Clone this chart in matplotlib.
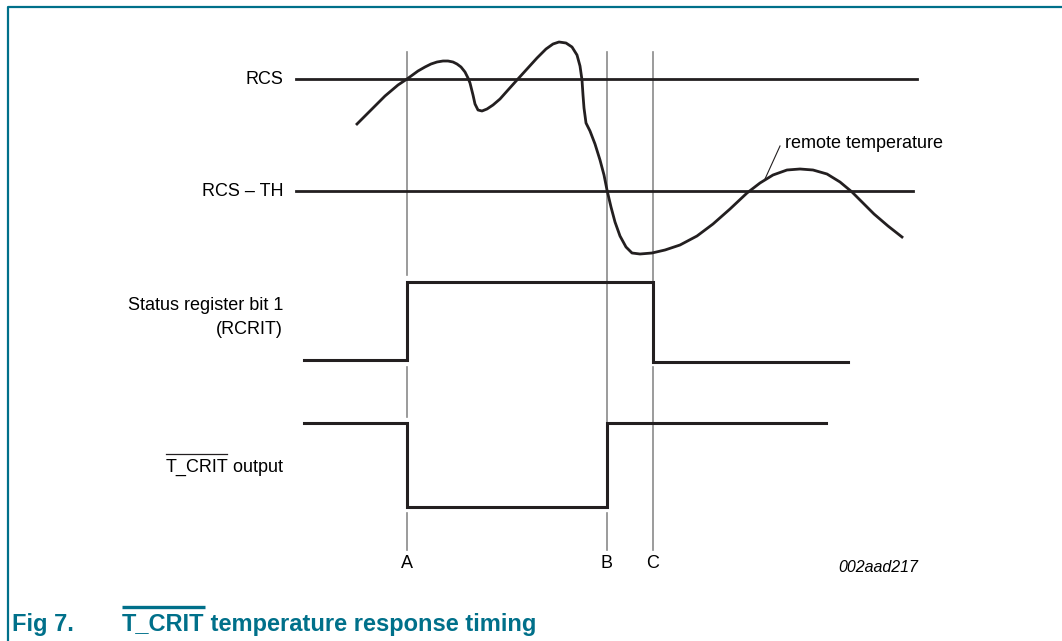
import matplotlib
matplotlib.use("Agg")
import matplotlib.pyplot as plt

# %%
# values (pixel units, y grows downward)
curve_x = [357, 370, 385, 398, 407, 418, 425, 431, 437, 443, 448, 453, 457, 461, 465, 468,
           470, 473, 475, 478, 482, 487, 493, 500, 508, 517, 527, 537, 546, 553, 559, 566,
           572, 577, 580, 582, 583, 584, 586, 590, 595, 600, 604, 607, 611, 615, 620, 626,
           632, 640, 652, 665, 680, 697, 713, 730, 747, 760, 773, 787, 800, 813, 827, 840,
           852, 863, 874, 888, 902]
curve_y = [124, 111, 96, 85, 79, 71, 67, 64, 62, 61, 61, 62, 64, 67, 72, 78,
           83, 95, 104, 110, 111, 109, 105, 99, 90, 80, 69, 58, 49, 44, 42, 43,
           47, 55, 66, 80, 95, 108, 123, 131, 144, 160, 175, 190, 207, 222, 236, 247,
           253, 254, 253, 250, 245, 236, 224, 209, 193, 183, 175, 170, 169, 170, 174, 182,
           192, 203, 214, 226, 237]

rcs_level = 79
rcs_th_level = 191
events = {"A": 407, "B": 607, "C": 653}

status_x = [304, 407, 407, 653, 653, 848]
status_y = [360, 360, 282, 282, 362, 362]
tcrit_x = [304, 407, 407, 607, 607, 826]
tcrit_y = [423, 423, 507, 507, 423, 423]

# gray marker segments (top, bottom) for each event line
marker_segs = {
    "A": [(52, 275), (367, 417), (513, 550)],
    "B": [(52, 423), (513, 550)],
    "C": [(52, 282), (367, 550)],
}

teal = "#00708a"
ink = "#231f20"
font = ["Liberation Sans", "DejaVu Sans"]
fs = 13

# %%
fig = plt.figure(figsize=(10.62, 6.41), dpi=100)
ax = fig.add_axes([0, 0, 1, 1])
ax.set_xlim(0, 1062)
ax.set_ylim(641, 0)
ax.axis("off")

# frame
ax.plot([8, 8, 1062], [641, 7, 7], color=teal, lw=1.6, solid_capstyle="butt")

# event markers
for name, segs in marker_segs.items():
    x = events[name]
    for y0, y1 in segs:
        ax.plot([x, x], [y0, y1], color="#8a8a8a", lw=1.2)
    ax.text(x, 564, name, ha="center", va="center", fontsize=fs, family=font)

# thresholds
ax.plot([296, 917], [rcs_level, rcs_level], color=ink, lw=2)
ax.plot([296, 913], [rcs_th_level, rcs_th_level], color=ink, lw=2)
ax.text(283, rcs_level + 1, "RCS", ha="right", va="center", fontsize=fs, family=font)
ax.text(283, rcs_th_level + 1, "RCS \u2013 TH", ha="right", va="center", fontsize=fs, family=font)

# remote temperature
ax.plot(curve_x, curve_y, color=ink, lw=2, solid_joinstyle="round")
ax.plot([765, 780], [179, 146], color=ink, lw=0.8)
ax.text(785, 143, "remote temperature", ha="left", va="center", fontsize=fs, family=font)

# digital signals
ax.plot(status_x, status_y, color=ink, lw=2.2, solid_joinstyle="miter")
ax.plot(tcrit_x, tcrit_y, color=ink, lw=2.2, solid_joinstyle="miter")
ax.text(283, 305, "Status register bit 1", ha="right", va="center", fontsize=fs, family=font)
ax.text(283, 329, "(RCRIT)", ha="right", va="center", fontsize=fs, family=font)

t_out = ax.text(283, 467, " output", ha="right", va="center", fontsize=fs, family=font)
fig.canvas.draw()
r = fig.canvas.get_renderer()
bb = t_out.get_window_extent(r).transformed(ax.transData.inverted())
t_name = ax.text(bb.x0, 467, "T_CRIT", ha="right", va="center", fontsize=fs, family=font)
bb2 = t_name.get_window_extent(r).transformed(ax.transData.inverted())
ax.plot([bb2.x0 + 1, bb2.x1 - 1], [454, 454], color=ink, lw=0.9)

ax.text(918, 567, "002aad217", ha="right", va="center", fontsize=11.5, style="italic", family=font)

# caption
ax.text(12, 624, "Fig 7.", ha="left", va="center", fontsize=17, weight="bold", color=teal, family=font)
tmp = ax.text(122, 624, "T_CRIT", ha="left", va="center", fontsize=17, weight="bold",
              color=teal, family=font)
fig.canvas.draw()
r = fig.canvas.get_renderer()
bb3 = tmp.get_window_extent(r).transformed(ax.transData.inverted())
ax.text(bb3.x1, 624, " temperature response timing", ha="left", va="center",
        fontsize=17, weight="bold", color=teal, family=font)
ax.plot([bb3.x0, bb3.x1], [607, 607], color=teal, lw=2.4, solid_capstyle="butt")

fig.savefig("out.png", dpi=100, facecolor="white")
